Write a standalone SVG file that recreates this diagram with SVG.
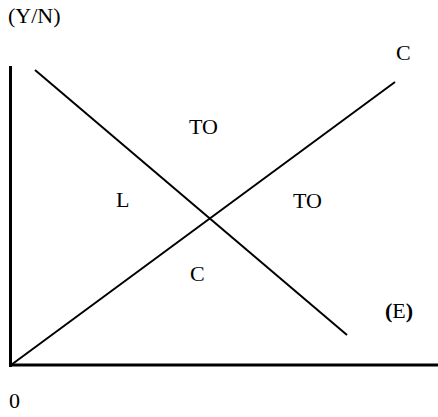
<svg xmlns="http://www.w3.org/2000/svg" width="438" height="417" viewBox="0 0 438 417">
<style>
.t{font-family:"Liberation Serif","Times New Roman",serif;font-size:22px;fill:#000}
.b{font-weight:bold}
.ax{stroke:#000;stroke-width:3;fill:none}
.ln{stroke:#000;stroke-width:2;fill:none}
</style>
<rect width="438" height="417" fill="#fff"/>
<g id="connectors">
<line class="ax" x1="10.5" y1="66" x2="10.5" y2="367"/>
<line class="ax" x1="9" y1="365" x2="438" y2="365"/>
<line class="ln" x1="11" y1="365" x2="395" y2="82"/>
<line class="ln" x1="35" y1="70" x2="347" y2="335"/>
</g>
<g id="labels">
<text class="t" x="8" y="23">(Y/N)</text>
<text class="t" x="396" y="60">C</text>
<text class="t" x="189" y="134">TO</text>
<text class="t" x="116" y="207">L</text>
<text class="t" x="293" y="208">TO</text>
<text class="t" x="190" y="281">C</text>
<text class="t" x="385" y="318"><tspan class="b">(</tspan>E<tspan class="b">)</tspan></text>
<text class="t" x="9" y="408">0</text>
</g>
</svg>
